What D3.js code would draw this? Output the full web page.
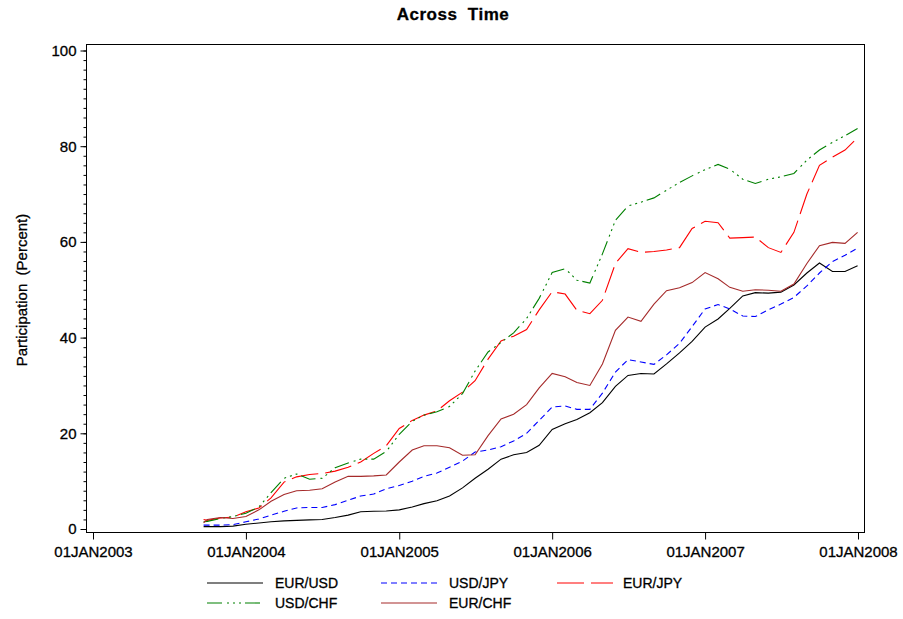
<!DOCTYPE html>
<html>
<head>
<meta charset="utf-8">
<script src="https://cdn.jsdelivr.net/npm/d3@7"></script>
<style>
  body { margin: 0; background: #fff; }
  text { font-family: "Liberation Sans", Arial, sans-serif; fill: #000; stroke: #000; stroke-width: 0.3px; }
</style>
</head>
<body>
<script>
// sample dates (month starts between first and last day of data)
const dates = ["2003-09-22","2003-10-01","2003-11-01","2003-12-01",
  "2004-01-01","2004-02-01","2004-03-01","2004-04-01","2004-05-01","2004-06-01","2004-07-01","2004-08-01","2004-09-01","2004-10-01","2004-11-01","2004-12-01",
  "2005-01-01","2005-02-01","2005-03-01","2005-04-01","2005-05-01","2005-06-01","2005-07-01","2005-08-01","2005-09-01","2005-10-01","2005-11-01","2005-12-01",
  "2006-01-01","2006-02-01","2006-03-01","2006-04-01","2006-05-01","2006-06-01","2006-07-01","2006-08-01","2006-09-01","2006-10-01","2006-11-01","2006-12-01",
  "2007-01-01","2007-02-01","2007-03-01","2007-04-01","2007-05-01","2007-06-01","2007-07-01","2007-08-01","2007-09-01","2007-10-01","2007-11-01","2007-12-01","2007-12-31"];

const eurUsd = [0.5,0.5,0.5,0.6, 1.0,1.25,1.5,1.7,1.8,1.9,2.0,2.4,2.9,3.6,3.7,3.75,
  4.0,4.6,5.3,5.9,6.9,8.6,10.6,12.5,14.6,15.5,16.0,17.5,
  20.8,22.0,22.9,24.3,26.4,29.8,32.1,32.5,32.4,34.5,36.8,39.2,
  42.2,43.9,46.1,48.7,49.4,49.3,49.5,51.0,53.5,55.6,53.8,53.8,55.0];
const usdJpy = [0.8,0.8,0.8,0.9, 1.5,2.1,2.9,3.7,4.4,4.5,4.5,5.1,6.0,6.9,7.3,8.4,
  9.1,10.0,11.0,11.7,12.9,14.2,16.1,16.5,17.2,18.4,20.0,22.7,
  25.5,25.7,25.0,25.0,28.4,32.8,35.4,34.9,34.4,36.4,38.8,42.3,
  46.0,46.9,46.0,44.5,44.4,45.8,47.0,48.4,50.8,53.5,55.9,57.2,58.7];
const eurJpy = [2.0,1.8,2.3,2.5, 3.6,4.4,6.5,9.8,10.9,11.4,11.6,12.1,12.9,14.0,15.8,17.4,
  21.0,22.7,23.8,24.7,26.8,28.6,31.0,35.5,39.3,40.3,41.7,45.8,
  49.6,49.1,45.7,45.0,47.8,55.5,58.6,57.8,58.0,58.3,58.8,62.8,
  64.3,64.0,60.8,60.9,61.0,58.8,57.8,62.0,70.0,76.0,77.7,79.2,81.8];
const usdChf = [1.5,1.6,2.2,2.6, 3.3,4.6,7.6,10.6,11.5,10.4,10.6,12.8,13.8,14.6,14.6,16.2,
  19.8,22.5,23.8,24.5,25.6,28.3,33.0,37.0,39.0,41.0,44.0,48.2,
  53.6,54.4,52.0,51.4,57.5,64.5,67.5,68.3,69.2,70.8,72.4,73.8,
  75.1,76.2,75.2,73.1,72.2,73.1,73.6,74.3,77.1,79.2,80.8,82.2,83.7];
const eurChf = [1.3,2.0,2.4,2.2, 2.6,4.0,5.8,7.2,8.0,8.1,8.4,9.8,11.0,11.0,11.1,11.3,
  14.0,16.5,17.4,17.4,17.0,15.4,15.5,19.5,23.0,24.0,26.0,29.5,
  32.5,31.8,30.6,30.0,34.5,41.5,44.3,43.4,47.0,49.8,50.4,51.5,
  53.6,52.3,50.5,49.7,50.0,49.9,49.7,51.2,55.5,59.2,59.9,59.7,62.0];

const xTicks = ["2003-01-01","2004-01-01","2005-01-01","2006-01-01","2007-01-01","2008-01-01"];
const yTicks = [0,20,40,60,80,100];

window.addEventListener('load', function(){
    const svg = d3.select('body').append('svg')
        .attr('width', 903)
        .attr('height', 619);

    const parse = d3.timeParse('%Y-%m-%d');
    const fmt = d3.timeFormat('%d%b%Y');

    const xScale = d3.scaleTime()
        .domain([parse('2003-01-01'), parse('2008-01-01')])
        .range([93, 858]);
    const yScale = d3.scaleLinear().domain([0,100]).range([529, 50.5]);

    // frame
    svg.append('rect')
        .attr('x', 86.5).attr('y', 44.5)
        .attr('width', 778).attr('height', 488)
        .attr('fill', 'none').attr('stroke', '#000');

    // y axis, major + minor
    const yAxis = d3.axisLeft(yScale).tickValues(yTicks).tickSize(6).tickPadding(4);
    const gy = svg.append('g').attr('transform', 'translate(86.5,0)').call(yAxis);
    gy.select('.domain').remove();
    gy.selectAll('text').style('font-size', '15px');

    const yMinor = d3.axisLeft(yScale).tickValues(d3.range(0, 101, 2)).tickSize(3).tickFormat('');
    svg.append('g').attr('transform', 'translate(86.5,0)').call(yMinor)
        .select('.domain').remove();

    // x axis
    const xAxis = d3.axisBottom(xScale)
        .tickValues(xTicks.map(parse))
        .tickFormat(d => fmt(d).toUpperCase())
        .tickSize(7).tickPadding(7);
    const gx = svg.append('g').attr('transform', 'translate(0,532.5)').call(xAxis);
    gx.select('.domain').remove();
    gx.selectAll('text').style('font-size', '15px');

    // titles
    svg.append('text')
        .attr('x', 453).attr('y', 20)
        .attr('text-anchor', 'middle')
        .style('font-size', '17px').style('font-weight', 'bold')
        .style('letter-spacing', '0.5px')
        .style('white-space', 'pre')
        .text('Across  Time');

    svg.append('text')
        .attr('transform', 'translate(27,290) rotate(-90)')
        .attr('text-anchor', 'middle')
        .style('font-size', '15px')
        .style('white-space', 'pre')
        .text('Participation  (Percent)');

    const series = [
        {name: 'EUR/USD', values: eurUsd, color: '#000000', dash: null},
        {name: 'USD/JPY', values: usdJpy, color: '#0000ff', dash: '6,4'},
        {name: 'EUR/JPY', values: eurJpy, color: '#ff0000', dash: '27,7'},
        {name: 'USD/CHF', values: usdChf, color: '#008000', dash: '15,5,2,4,2,4,2,4'},
        {name: 'EUR/CHF', values: eurChf, color: '#a52a2a', dash: null}
    ];

    const line = d3.line()
        .x((d, i) => xScale(parse(dates[i])))
        .y(d => yScale(d));

    svg.selectAll('path.series')
        .data(series)
        .enter()
        .append('path')
        .attr('class', 'series')
        .attr('d', d => line(d.values))
        .attr('fill', 'none')
        .attr('stroke', d => d.color)
        .attr('stroke-width', 1.1)
        .attr('stroke-dasharray', d => d.dash);

    // legend: 3 columns, 2 rows
    const legX = [207, 381, 557];
    const legY = [583, 603];
    const leg = svg.selectAll('g.leg')
        .data(series)
        .enter()
        .append('g')
        .attr('class', 'leg')
        .attr('transform', (d, i) => 'translate(' + legX[i % 3] + ',' + legY[Math.floor(i / 3)] + ')');

    leg.append('line')
        .attr('x1', 0).attr('x2', 56)
        .attr('y1', 0).attr('y2', 0)
        .attr('stroke', d => d.color)
        .attr('stroke-width', 1.1)
        .attr('stroke-dasharray', d => d.dash);

    leg.append('text')
        .attr('x', (d, i) => i % 3 == 2 ? 66 : 68)
        .attr('y', 5)
        .style('font-size', '14px')
        .text(d => d.name);
});
</script>
</body>
</html>
